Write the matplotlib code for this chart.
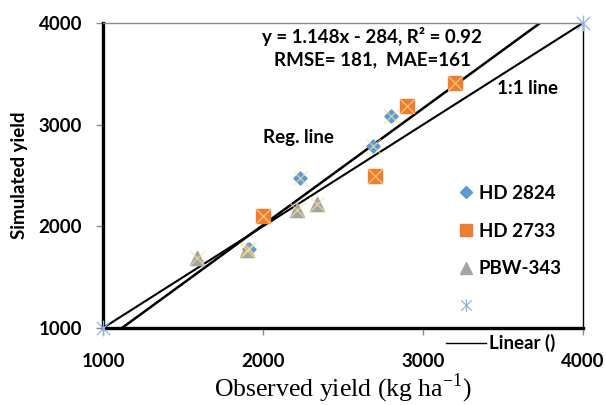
import matplotlib
matplotlib.use("Agg")
import matplotlib.pyplot as plt
import numpy as np
from matplotlib.lines import Line2D
from matplotlib.path import Path

# ---- data ----
hd2824_x = [1910, 2230, 2690, 2800]
hd2824_y = [1780, 2480, 2790, 3090]
hd2733_x = [2000, 2700, 2900, 3200]
hd2733_y = [2100, 2500, 3180, 3410]
pbw_x = [1590, 1900, 2210, 2340]
pbw_y = [1690, 1770, 2160, 2220]
star_x = [1000, 4000]
star_y = [1000, 4000]
reg_slope = 1.148
reg_intercept = -284
ticks = [1000, 2000, 3000, 4000]

SANS = ["Lato", "DejaVu Sans"]
FS = 13.5

# Excel-like star marker: X plus vertical bar
star_path = Path(
    [(-1, -1), (1, 1), (-1, 1), (1, -1), (0, -1.2), (0, 1.2)],
    [Path.MOVETO, Path.LINETO, Path.MOVETO, Path.LINETO, Path.MOVETO, Path.LINETO],
)

fig = plt.figure(figsize=(6.06, 4.05), dpi=100)
ax = fig.add_axes([103/606, 1-328/405, 480/606, 305/405])
ax.set_xlim(1000, 4000)
ax.set_ylim(1000, 4000)

# lines
xl = np.array([1000, 4000])
ax.plot(xl, xl, color="black", lw=1.5, zorder=2)
ax.plot(xl, reg_slope*xl + reg_intercept, color="black", lw=1.8, zorder=2)

# points
blue = "#5B9BD5"; orange = "#ED7D31"; gray = "#A5A5A5"; starc = "#8FB4E3"
ax.scatter(hd2824_x, hd2824_y, marker="D", s=45, color=blue, zorder=3)
ax.scatter(hd2733_x, hd2733_y, marker="s", s=105, color=orange, zorder=3)
ax.scatter(pbw_x, pbw_y, marker="^", s=105, color=gray, zorder=4)
allx = hd2824_x + hd2733_x + pbw_x
ally = hd2824_y + hd2733_y + pbw_y
ax.scatter(allx, ally, marker="x", s=110, color="#FFE08A", alpha=0.7, lw=1.0, zorder=5)
ax.scatter(star_x, star_y, marker=star_path, s=130, color=starc, lw=0.9,
           zorder=5, clip_on=False)

# spines
for s in ["left", "bottom"]:
    ax.spines[s].set_linewidth(2.4)
    ax.spines[s].set_color("black")
ax.spines["right"].set_linewidth(1.0)
ax.spines["right"].set_color("black")
ax.spines["top"].set_linewidth(1.0)
ax.spines["top"].set_color("#8C8C8C")

ax.set_xticks(ticks)
ax.set_yticks(ticks)
ax.set_xticklabels([str(t) for t in ticks], fontfamily=SANS, fontweight="bold", fontsize=FS)
ax.set_yticklabels([str(t) for t in ticks], fontfamily=SANS, fontweight="bold", fontsize=FS)
ax.tick_params(axis="x", length=5, color="#8C8C8C", width=1, pad=13)
ax.tick_params(axis="y", length=5, color="#8C8C8C", width=1, pad=10)

ax.set_ylabel("Simulated yield", fontfamily=SANS, fontweight="bold", fontsize=FS, labelpad=8)
ax.set_xlabel("Observed yield (kg ha$^{\\mathregular{-1}}$)", fontfamily="Liberation Serif",
              fontsize=18.5, labelpad=1)

# annotations
def ftext(x, y, s, ha):
    fig.text(x/606, 1-y/405, s, ha=ha, va="center", fontfamily=SANS,
             fontweight="bold", fontsize=FS)

ftext(372, 37, "y = 1.148x - 284, R² = 0.92", "center")
ftext(372, 60, "RMSE= 181,  MAE=161", "center")
ftext(497, 88, "1:1 line", "left")
ftext(263, 137, "Reg. line", "left")

# legend (markers)
handles = [
    Line2D([], [], ls="none", marker="D", ms=6.5, color=blue),
    Line2D([], [], ls="none", marker="s", ms=8.5, color=orange),
    Line2D([], [], ls="none", marker="^", ms=8.5, color=gray),
    Line2D([], [], ls="none", marker=star_path, ms=9, color=starc, mew=0.9),
]
labels = ["HD 2824", "HD 2733", "PBW-343", ""]
prop = {"family": SANS, "weight": "bold", "size": FS}
leg = ax.legend(handles, labels, loc="upper left", bbox_to_anchor=(458/606, 1-185/405),
                bbox_transform=fig.transFigure, frameon=False, handlelength=0.9,
                handletextpad=0.2, labelspacing=1.1, borderpad=0, borderaxespad=0,
                prop=prop)
ax.add_artist(leg)
leg2 = ax.legend([Line2D([], [], color="black", lw=1.0)], ["Linear ()"], loc="upper left",
                 bbox_to_anchor=(446/606, 1-334/405), bbox_transform=fig.transFigure,
                 frameon=False, handlelength=2.15, handletextpad=0.15, borderpad=0,
                 borderaxespad=0, prop=prop)
leg2.set_clip_on(False)

fig.savefig("out.png", dpi=100)
